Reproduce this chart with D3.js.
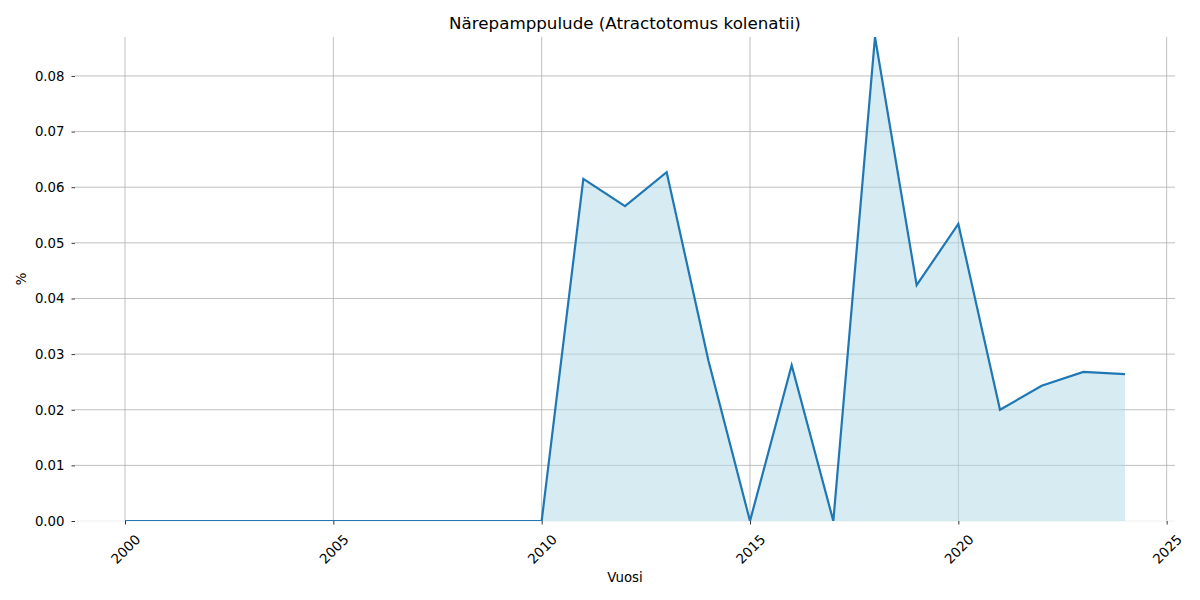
<!DOCTYPE html>
<html>
<head>
<meta charset="utf-8">
<script src="https://cdn.jsdelivr.net/npm/d3@7"></script>
<style>
  body { margin: 0; background: #fff; }
  svg { display: block; font-family: "DejaVu Sans", sans-serif; }
</style>
</head>
<body>
<svg id="chart" width="1200" height="600"></svg>
<script>
const years = [2000,2001,2002,2003,2004,2005,2006,2007,2008,2009,2010,2011,2012,2013,2014,2015,2016,2017,2018,2019,2020,2021,2022,2023,2024];
const values = [0,0,0,0,0,0,0,0,0,0,0,0.0615,0.0566,0.0627,0.0289,0,0.0280,0,0.0870,0.0424,0.0534,0.0200,0.0243,0.0268,0.0264];
const xTicks = [2000,2005,2010,2015,2020,2025];
const yTicks = [0,0.01,0.02,0.03,0.04,0.05,0.06,0.07,0.08];
const title = "Närepamppulude (Atractotomus kolenatii)";
const xLabel = "Vuosi";
const yLabel = "%";

const data = years.map((y, i) => ({year: y, value: values[i]}));

const svg = d3.select("#chart");
const L = 75, R = 1175, T = 37, B = 521;

const span = d3.max(years) - d3.min(years);
const x = d3.scaleLinear()
  .domain([d3.min(years) - span * 0.05, d3.max(years) + span * 0.05])
  .range([L, R]);
const y = d3.scaleLinear()
  .domain([0, d3.max(values)])
  .range([B, T]);

// grid
const grid = svg.append("g");
grid.selectAll(".gx").data(xTicks).enter().append("line")
  .attr("x1", d => x(d)).attr("x2", d => x(d))
  .attr("y1", T).attr("y2", B)
  .attr("stroke", "#b0b0b0").attr("stroke-width", 0.8);
grid.selectAll(".gy").data(yTicks.filter(d => d > 0)).enter().append("line")
  .attr("x1", L).attr("x2", R)
  .attr("y1", d => y(d)).attr("y2", d => y(d))
  .attr("stroke", "#b0b0b0").attr("stroke-width", 0.8);

// faint baseline
svg.append("line").attr("x1", L).attr("x2", R).attr("y1", B).attr("y2", B)
  .attr("stroke", "#f0f0f0").attr("stroke-width", 1);

// area
const area = d3.area().x(d => x(d.year)).y0(y(0)).y1(d => y(d.value));
svg.append("path").datum(data).attr("d", area)
  .attr("fill", "#add8e6").attr("fill-opacity", 0.5);

// line
const line = d3.line().x(d => x(d.year)).y(d => y(d.value));
svg.append("defs").append("clipPath").attr("id", "clip")
  .append("rect").attr("x", L).attr("y", T).attr("width", R - L).attr("height", B - T);
svg.append("path").datum(data).attr("d", line)
  .attr("fill", "none").attr("stroke", "#1f77b4").attr("stroke-width", 2.2)
  .attr("stroke-linejoin", "miter")
  .attr("clip-path", "url(#clip)");

// x axis
const xAxis = svg.append("g").attr("transform", `translate(0,${B})`)
  .call(d3.axisBottom(x).tickValues(xTicks).tickSize(3.5).tickFormat(d3.format("d")));
xAxis.select(".domain").remove();
xAxis.selectAll(".tick line").attr("stroke", "#000").attr("stroke-width", 0.8);
xAxis.selectAll(".tick text")
  .attr("font-size", 13.6).attr("fill", "#000")
  .attr("font-family", "DejaVu Sans, sans-serif")
  .attr("text-anchor", "middle")
  .attr("dominant-baseline", "central")
  .attr("y", 0).attr("dy", null)
  .attr("transform", "translate(0,28) rotate(-45)");

// y axis
const yAxis = svg.append("g").attr("transform", `translate(${L},0)`)
  .call(d3.axisLeft(y).tickValues(yTicks).tickSize(3.5).tickPadding(7).tickFormat(d3.format(".2f")));
yAxis.select(".domain").remove();
yAxis.selectAll(".tick line").attr("stroke", "#000").attr("stroke-width", 0.8);
yAxis.selectAll(".tick text")
  .attr("font-size", 13.3).attr("fill", "#000")
  .attr("font-family", "DejaVu Sans, sans-serif");

// labels
svg.append("text").attr("x", (L + R) / 2).attr("y", 29)
  .attr("text-anchor", "middle").attr("font-size", 16.7).attr("fill", "#000")
  .text(title);
svg.append("text").attr("x", (L + R) / 2).attr("y", 582)
  .attr("text-anchor", "middle").attr("font-size", 13.3).attr("fill", "#000")
  .text(xLabel);
svg.append("text").attr("transform", `translate(26,${(T + B) / 2}) rotate(-90)`)
  .attr("text-anchor", "middle").attr("font-size", 13.3).attr("fill", "#000")
  .text(yLabel);
</script>
</body>
</html>
